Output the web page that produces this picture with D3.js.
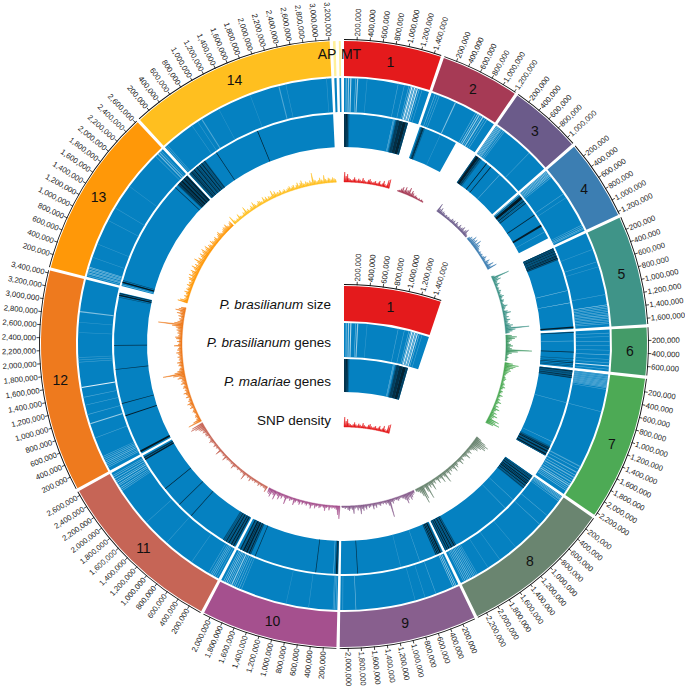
<!DOCTYPE html>
<html>
<head>
<meta charset="utf-8">
<script src="https://d3js.org/d3.v7.min.js"></script>
<style>
  html, body { margin: 0; padding: 0; background: #fff; }
  svg { display: block; font-family: "Liberation Sans", Arial, sans-serif; }
</style>
</head>
<body>
<script>
const chrNames = ['1','2','3','4','5','6','7','8','9','10','11','12','13','14','AP','MT'];
// chromosome sizes in Mb
const chrSizes = [1.51,1.22,1.125,1.247,1.69,0.737,2.25,2.35,2.13,2.113,2.664,3.44,2.63,3.21,0.04,0.03];
const chrColors = ['#e41a1c','#a63a55','#6b5b8a','#3c7eb2','#3f9488','#449b68','#4daa55','#6a8570',
  '#885f8e','#a5508e','#c66556','#ee7a1e','#ff9808','#ffbf1f','#fff09a','#fff09a'];
// how far the P. malariae track and the SNP track reach along each chromosome, Mb
const pmExtents = [1.31,0.80,1.125,1.07,1.69,0.737,1.82,2.35,2.13,2.113,2.664,3.35,2.63,3.21,0,0];

// [chr, start, end, level] level 0 = white, 1 = track blue
const pbBands = [
  [1,.03,.05,.6],[1,.07,.09,.4],[1,.11,.13,.3],[1,.2,.21,.5],[1,.23,.25,.4],[1,.4,.41,.8],[1,.95,.96,.7],[1,1.06,1.07,.7],
  [1,1.14,1.15,.6],[1,1.17,1.18,.3],[1,1.19,1.21,.1],[1,1.22,1.23,.3],[1,1.24,1.26,.1],[1,1.27,1.28,.3],[1,1.29,1.31,.2],[1,1.33,1.34,.5],[1,1.38,1.39,.7],
  [2,.06,.07,.6],[2,.1,.11,.7],[2,.14,.15,.7],[2,.44,.46,.5],[2,.84,.85,.6],[2,.88,.89,.3],[2,.91,.93,.4],[2,.95,.96,.5],[2,.98,1,.4],[2,1.03,1.04,.6],[2,1.07,1.08,.6],
  [3,.01,.02,.3],[3,.03,.04,.5],[3,.05,.06,.3],[3,.07,.08,.5],[3,.09,.1,.4],[3,.11,.12,.6],[3,.14,.15,.6],[3,.17,.18,.7],[3,.74,.75,.7],
  [4,.01,.02,.4],[4,.03,.04,.3],[4,.05,.06,.5],[4,.07,.08,.3],[4,.09,.1,.5],[4,.11,.12,.4],[4,.14,.15,.6],[4,.5,.51,.7],[4,.58,.59,.7],[4,1.13,1.14,.6],[4,1.16,1.17,.6],[4,1.19,1.2,.5],[4,1.21,1.22,.6],
  [5,.3,.31,.8],[5,.53,.54,.7],[5,.62,.63,.8],[5,1.12,1.13,.7],[5,1.3,1.31,.3],[5,1.33,1.34,.6],[5,1.36,1.37,.5],[5,1.39,1.4,.6],[5,1.42,1.43,.5],[5,1.45,1.46,.6],[5,1.48,1.49,.5],[5,1.51,1.52,.6],[5,1.54,1.55,.5],[5,1.57,1.58,.6],[5,1.6,1.61,.5],[5,1.63,1.64,.6],
  [6,.06,.07,.7],[6,.12,.13,.7],[6,.2,.21,.6],[6,.28,.29,.7],[6,.36,.37,.7],[6,.44,.45,.6],[6,.52,.53,.7],[6,.58,.59,.7],[6,.63,.65,.2],[6,.69,.7,.6],
  [7,.01,.02,.6],[7,.03,.04,.5],[7,.05,.06,.6],[7,.07,.08,.5],[7,.09,.1,.6],[7,.11,.12,.5],[7,.13,.14,.6],[7,.15,.16,.5],[7,.17,.18,.6],[7,.19,.2,.5],[7,.21,.22,.6],[7,.23,.24,.6],[7,.26,.27,.7],[7,.66,.67,.7],
  [7,1.68,1.7,.7],[7,1.74,1.75,.6],[7,1.8,1.82,.6],[7,1.86,1.87,.5],[7,1.9,1.92,.6],[7,1.95,1.96,.5],[7,1.99,2.01,.6],[7,2.04,2.05,.4],[7,2.07,2.09,.5],[7,2.11,2.12,.5],[7,2.14,2.15,.6],[7,2.17,2.18,.5],
  [8,.01,.02,.5],[8,.03,.04,.6],[8,.05,.06,.5],[8,.07,.08,.6],[8,.1,.11,.6],[8,.42,.43,.7],[8,.62,.63,.7],[8,1.2,1.21,.8],[8,1.55,1.56,.8],[8,1.8,1.81,.8],
  [8,2.02,2.03,.7],[8,2.05,2.06,.6],[8,2.08,2.09,.5],[8,2.11,2.12,.5],[8,2.14,2.15,.5],[8,2.17,2.18,.4],[8,2.2,2.21,.4],[8,2.23,2.24,.5],[8,2.26,2.27,.5],[8,2.29,2.3,.6],
  [9,.04,.05,.3],[9,.07,.08,.2],[9,.1,.11,.4],[9,.42,.43,.7],[9,.62,.63,.8],[9,.8,.81,.8],[9,1.85,1.86,.5],[9,2.08,2.09,.7],
  [10,.02,.03,.6],[10,.05,.06,.6],[10,.07,.08,.7],[10,.5,.51,.8],[10,.9,.91,.85],[10,1.72,1.73,.7],[10,1.76,1.77,.6],[10,1.8,1.81,.6],[10,1.84,1.85,.5],[10,1.87,1.88,.5],[10,1.9,1.92,.4],[10,1.94,1.95,.5],[10,1.97,1.98,.4],[10,2,2.01,.3],[10,2.03,2.04,.4],[10,2.06,2.07,.5],
  [11,.03,.04,.7],[11,.07,.08,.6],[11,.1,.11,.5],[11,.13,.14,.5],[11,.16,.17,.6],[11,.2,.21,.7],[11,.55,.56,.8],[11,1.1,1.11,.8],[11,1.6,1.61,.8],
  [11,2.3,2.31,.6],[11,2.33,2.34,.5],[11,2.36,2.37,.4],[11,2.4,2.41,.5],[11,2.43,2.44,.4],[11,2.47,2.48,.3],[11,2.5,2.51,.5],[11,2.54,2.55,.4],[11,2.58,2.59,.5],[11,2.61,2.62,.6],
  [12,.06,.07,.6],[12,.09,.1,.5],[12,.12,.13,.5],[12,.15,.16,.4],[12,.18,.19,.5],[12,.21,.22,.5],[12,.24,.25,.6],[12,.27,.28,.6],[12,.62,.63,.7],[12,.88,.9,.4],[12,1.05,1.06,.7],[12,1.22,1.23,.7],[12,1.36,1.37,.7],[12,1.53,1.55,.1],
  [12,1.98,1.99,.7],[12,2.02,2.03,.7],[12,2.06,2.07,.8],[12,2.5,2.51,.8],[12,2.68,2.69,.8],[12,2.86,2.88,.5],
  [13,.02,.03,.6],[13,.05,.06,.4],[13,.07,.08,.5],[13,.1,.11,.4],[13,.12,.13,.5],[13,.15,.16,.4],[13,.17,.18,.5],[13,.35,.36,.8],[13,.6,.61,.8],[13,1.05,1.06,.8],[13,1.3,1.31,.8],[13,1.75,1.76,.85],[13,2.45,2.46,.7],[13,2.5,2.52,.5],[13,2.54,2.56,.6],[13,2.58,2.59,.7],
  [14,.02,.03,.6],[14,.05,.06,.7],[14,.6,.61,.8],[14,.72,.73,.8],[14,.8,.82,.7],[14,1.15,1.16,.85],[14,1.75,1.76,.85],[14,2.27,2.29,.7],[14,2.4,2.41,.8],[14,3.12,3.13,.8]
];

// [chr, start, end, level] level 1 = track blue, 2 = black
const pmBands = [
  [1,0,.03,1.7],[1,.03,.06,1.9],[1,.06,.09,1.6],[1,.09,.11,1.3],[1,1,1.01,.5],[1,1.02,1.03,.6],[1,1.05,1.07,1.3],[1,1.07,1.13,1.6],[1,1.13,1.2,1.75],[1,1.2,1.27,1.85],[1,1.27,1.31,1.6],
  [2,.03,.05,1.5],[2,.05,.09,1.7],[2,.09,.11,1.3],[2,.44,.45,.8],
  [3,0,.02,1.5],[3,.02,.08,1.9],[3,.08,.12,1.6],[3,.12,.15,1.3],[3,.27,.285,1.9],[3,.38,.395,1.9],[3,.62,.63,.6],
  [4,.01,.02,.4],[4,.03,.05,1.4],[4,.06,.12,1.95],[4,.13,.15,1.4],[4,.16,.18,1.8],[4,.19,.21,1.3],[4,.22,.24,1.7],[4,.52,.535,1.8],[4,.76,.8,1.9],[4,.92,.93,.7],
  [5,0,.26,1.25],[5,0,.02,1.7],[5,.03,.05,1.6],[5,.06,.075,1.85],[5,.08,.1,1.5],[5,.11,.125,1.85],[5,.13,.15,1.5],[5,.16,.175,1.9],[5,.18,.2,1.7],[5,.21,.23,1.9],[5,.24,.255,1.6],[5,.9,.91,.5],[5,1.15,1.16,.3],[5,1.64,1.67,1.9],
  [6,.01,.025,1.8],[6,.19,.2,.6],[6,.41,.425,1.8],[6,.55,.56,1.4],[6,.6,.61,1.7],[6,.63,.645,1.8],[6,.67,.68,1.5],[6,.7,.71,1.6],
  [7,0,.16,1.25],[7,.01,.03,1.8],[7,.04,.05,1.5],[7,.06,.07,1.7],[7,.08,.09,1.4],[7,.1,.115,1.9],[7,.12,.13,1.5],[7,.14,.155,1.8],[7,.66,.67,.7],[7,1.5,1.51,.6],[7,1.6,1.82,1.25],[7,1.6,1.61,1.3],[7,1.63,1.65,1.7],[7,1.66,1.68,1.9],[7,1.69,1.7,1.5],[7,1.71,1.74,1.9],[7,1.75,1.76,1.5],[7,1.77,1.8,1.9],[7,1.81,1.82,1.6],
  [8,0,.32,1.2],[8,.01,.02,1.5],[8,.03,.045,1.8],[8,.05,.07,1.5],[8,.08,.1,1.9],[8,.11,.12,1.5],[8,.13,.15,1.9],[8,.16,.18,1.7],[8,.19,.21,1.95],[8,.22,.23,1.5],[8,.24,.26,1.85],[8,.27,.28,1.4],[8,.29,.31,1.6],[8,.62,.63,.7],[8,.85,.86,.7],[8,2.1,2.35,1.2],[8,2.1,2.115,1.5],[8,2.13,2.15,1.9],[8,2.16,2.175,1.5],[8,2.19,2.21,1.9],[8,2.22,2.235,1.5],[8,2.25,2.27,1.9],[8,2.29,2.31,1.8],[8,2.33,2.345,1.6],
  [9,.02,.03,1.6],[9,.04,.07,1.9],[9,.08,.1,1.8],[9,.11,.13,1.95],[9,.14,.16,1.6],[9,.5,.51,.7],[9,.9,.91,.8],[9,1.78,1.795,1.7],
  [10,.01,.03,1.7],[10,.03,.05,1.9],[10,.06,.07,1.4],[10,.09,.1,.5],[10,.45,.465,1.7],[10,1.72,1.735,1.7],[10,1.82,2.07,1.25],[10,1.82,1.84,1.5],[10,1.85,1.87,1.9],[10,1.88,1.89,1.5],[10,1.9,1.93,1.9],[10,1.94,1.96,1.7],[10,1.97,2,1.9],[10,2.01,2.02,1.4],[10,2.04,2.06,1.8],
  [11,.02,.3,1.25],[11,.02,.03,1.4],[11,.04,.06,1.9],[11,.07,.08,1.5],[11,.09,.11,1.9],[11,.12,.13,1.4],[11,.15,.17,1.9],[11,.18,.19,1.5],[11,.21,.23,1.8],[11,.25,.26,1.5],[11,.28,.29,1.6],[11,1.09,1.105,1.7],[11,1.42,1.435,1.7],[11,1.85,1.865,1.85],[11,2.56,2.59,1.9],[11,2.6,2.63,1.7],
  [12,.03,.07,1.95],[12,.82,.84,1.9],[12,1.08,1.095,1.8],[12,1.78,1.795,1.7],[12,2.27,2.285,1.7],[12,3.25,3.26,1.5],[12,3.28,3.31,1.9],[12,3.32,3.34,1.8],
  [13,.02,.03,.5],[13,.06,.09,1.95],[13,.11,.12,1.6],[13,2.28,2.295,1.7],[13,2.35,2.63,1.4],[13,2.37,2.39,1.7],[13,2.4,2.42,1.95],[13,2.43,2.45,1.7],[13,2.46,2.49,1.95],[13,2.5,2.51,1.6],[13,2.52,2.55,1.9],[13,2.56,2.58,1.7],[13,2.59,2.62,1.9],
  [14,0,.42,1.3],[14,.02,.04,1.5],[14,.05,.07,1.8],[14,.08,.1,1.6],[14,.12,.14,1.9],[14,.15,.17,1.4],[14,.19,.21,1.8],[14,.22,.24,1.5],[14,.26,.28,1.9],[14,.29,.3,1.4],[14,.32,.34,1.8],[14,.36,.37,1.5],[14,.39,.41,1.7],[14,.69,.705,1.8],[14,1.63,1.645,1.85]
];

// SNP density per chromosome, one value per equal bin over that chromosome's reach
const snp1 = [10,6,8,4,3,2,3,5,3,2,4,3,2,5,3,2,2,4,5,3,2,3,4,2,3,5,2,3,6,3,2,8,9];
const snp2 = [1,2,4,6,3,7,4,5,8,3,6,4,2,3,2,1,2,1,2,1];
const snp3 = [9,4,6,3,4,3,2,3,2,3,2,2,4,3,4,2,5,3,2,5,3,4,6,3,5,7,3,2];
const snp4 = [3,5,4,8,5,7,4,9,5,6,4,3,2,3,2,3,2,3,5,3,2,6,4,3,8,4,10];
const snp5 = [3,18,6,8,4,3,5,3,2,3,2,4,3,2,3,5,3,2,4,3,2,3,6,4,3,2,5,8,4,3,5,3,6,4,3,5,8,6,24,10,7,4];
const snp6 = [6,11,9,6,4,3,5,7,4,6,26,12,6,3,2,3,2,2];
const snp7 = [8,14,11,9,6,7,5,4,3,2,3,4,3,2,3,4,3,5,3,2,4,3,2,5,3,2,4,3,6,3,2,5,3,7,4,3,6,4,8,5,4,12,9,14,8];
const snp8 = [6,12,16,14,15,11,8,9,6,4,3,6,4,3,8,4,3,2,5,3,7,3,2,4,6,3,8,4,3,5,3,7,4,3,12,5,3,9,4,3,7,3,2,5,3,10,4,6,3,16,8,3,14,18,10,6,4,3];
const snp9 = [3,4,6,8,5,7,10,6,4,3,2,3,4,3,2,3,5,3,18,6,3,4,2,3,2,4,3,2,5,3,6,2,3,4,2,5,3,6,4,9,3,5,2,3,8,4,3,5,4,2,3,2,2];
const snp10 = [13,9,4,3,2,3,2,5,2,3,6,3,2,3,4,2,3,5,2,3,6,3,2,4,3,2,4,2,5,3,2,4,7,2,3,4,2,3,9,3,2,5,3,7,4,3,9,5,4,8,6,5];
const snp11 = [6,3,3,2,3,2,4,2,2,3,2,3,2,5,2,3,2,2,8,3,2,3,2,2,3,2,2,3,6,2,3,2,2,2,3,2,6,2,3,2,2,2,7,2,2,3,2,4,2,2,3,5,3,2,3,2,4,4,3,5,4,6,7,10,14,12];
const snp12 = [14,8,4,3,4,3,2,3,4,3,2,5,3,4,6,3,4,3,2,5,3,4,6,3,4,3,5,4,3,6,4,5,4,8,6,12,22,10,7,5,4,3,5,4,6,3,4,3,5,3,4,6,3,5,4,3,8,4,3,5,3,6,7,4,3,5,4,6,5,7,11,25,9,6,4,5,3,6,4,8,5,10,7,5];
const snp13 = [10,8,4,3,5,3,4,6,3,5,4,3,6,4,5,3,6,7,4,8,5,6,8,4,6,9,5,7,4,6,10,5,7,4,6,8,5,7,9,5,6,8,4,6,5,3,7,5,4,5,6,3,4,6,7,4,3,4,5,6,5,7,4,3,5,6];
const snp14 = [9,3,2,3,2,6,3,2,2,4,3,8,3,4,2,3,5,3,7,4,2,3,5,4,3,2,6,3,5,2,4,3,3,8,4,6,3,4,3,5,2,3,4,2,3,4,5,3,4,5,2,4,6,3,5,7,4,3,5,4,3,5,3,12,5,4,3,4,6,4,3,8,4,3,5,4,3,5,4,3];
const snpByChr = [snp1,snp2,snp3,snp4,snp5,snp6,snp7,snp8,snp9,snp10,snp11,snp12,snp13,snp14];

const width = 685, height = 687;
const cx = 344, cy = 344;
const legendShift = 245;
const gapMb = 0.05;

let svg = d3.select('body').append('svg')
  .attr('width', width)
  .attr('height', height);

// cumulative start of every chromosome on one long axis
let starts = [];
let total = 0;
chrSizes.forEach(s => { starts.push(total); total += s + gapMb; });
let angle = d3.scaleLinear().domain([0, total]).range([0, 2 * Math.PI]);
let pos = (i, mb) => angle(starts[i] + mb);

let heat = d3.scaleLinear().domain([0, 1, 2]).range(['#ffffff', '#0581c1', '#04121a']);
let snpR = d3.scaleLinear().domain([0, 30]).range([162, 192]);
let fmt = d3.format(',');
let arc = d3.arc();

function cell(g, i, a, b, r0, r1, fill) {
  g.append('path')
    .attr('d', arc({ innerRadius: r0, outerRadius: r1, startAngle: pos(i, a), endAngle: pos(i, b) }))
    .attr('fill', fill);
}

function drawChr(g, i) {
  let size = chrSizes[i];
  // ideogram
  cell(g, i, 0, size, 268, 303, chrColors[i]);
  // P. brasilianum genes
  cell(g, i, 0, size, 232, 266, heat(1));
  pbBands.filter(d => d[0] === i + 1).forEach(d => cell(g, i, d[1], d[2], 232, 266, heat(d[3])));
  // P. malariae genes
  if (pmExtents[i] > 0) {
    cell(g, i, 0, pmExtents[i], 197, 230, heat(1));
    pmBands.filter(d => d[0] === i + 1).forEach(d => cell(g, i, d[1], d[2], 197, 230, heat(d[3])));
  }
  if (i >= 14) return;
  // outer line and ticks
  g.append('path')
    .attr('d', arc({ innerRadius: 304, outerRadius: 304.9, startAngle: pos(i, 0), endAngle: pos(i, size) }))
    .attr('fill', '#111');
  d3.range(0.2, size, 0.2).forEach(mb => {
    let a = pos(i, mb);
    let deg = a * 180 / Math.PI;
    let p0 = d3.pointRadial(a, 304), p1 = d3.pointRadial(a, 307.5);
    g.append('line')
      .attr('x1', p0[0]).attr('y1', p0[1]).attr('x2', p1[0]).attr('y2', p1[1])
      .attr('stroke', '#111').attr('stroke-width', 0.8);
    let left = deg > 180;
    g.append('text')
      .attr('transform', `rotate(${deg - 90}) translate(308,0)` + (left ? ' rotate(180)' : ''))
      .attr('text-anchor', left ? 'end' : 'start')
      .attr('dy', '0.35em')
      .attr('font-size', 7.7)
      .attr('fill', '#222')
      .text(fmt(Math.round(mb * 10) * 100000));
  });
  // chromosome number
  let mid = d3.pointRadial(pos(i, size / 2), 286);
  g.append('text')
    .attr('x', mid[0]).attr('y', mid[1])
    .attr('text-anchor', 'middle')
    .attr('dy', '0.35em')
    .attr('font-size', 14)
    .attr('fill', '#111')
    .text(chrNames[i]);
  // SNP density: every bin is a thin spike standing on the baseline
  let vals = snpByChr[i];
  let step = pmExtents[i] / vals.length;
  let spikes = [];
  vals.forEach((v, k) => {
    spikes.push([k * step, 0.6]);
    spikes.push([(k + 0.5) * step, v]);
  });
  spikes.push([vals.length * step, 0.6]);
  let area = d3.areaRadial()
    .angle(d => pos(i, d[0]))
    .innerRadius(snpR(0))
    .outerRadius(d => snpR(d[1]));
  g.append('path')
    .attr('d', area(spikes))
    .attr('fill', chrColors[i])
    .attr('stroke', chrColors[i])
    .attr('stroke-width', 0.45)
    .attr('stroke-linejoin', 'round');
}

let main = svg.append('g').attr('transform', `translate(${cx},${cy})`);
chrNames.forEach((n, i) => drawChr(main, i));

// AP and MT sit on the very top of the ideogram ring
main.append('text').attr('x', -17).attr('y', -290).attr('dy', '0.35em')
  .attr('text-anchor', 'middle').attr('font-size', 14).attr('fill', '#111').text('AP');
main.append('text').attr('x', 7).attr('y', -290).attr('dy', '0.35em')
  .attr('text-anchor', 'middle').attr('font-size', 14).attr('fill', '#111').text('MT');

// legend is chromosome 1 again, moved down into the hole
let legend = svg.append('g').attr('transform', `translate(${cx},${cy + legendShift})`);
drawChr(legend, 0);

const legendLabels = [
  { it: 'P. brasilianum', rest: ' size', y: 304 },
  { it: 'P. brasilianum', rest: ' genes', y: 342 },
  { it: 'P. malariae', rest: ' genes', y: 381 },
  { it: '', rest: 'SNP density', y: 420 }
];
legendLabels.forEach(d => {
  let t = svg.append('text')
    .attr('x', 331).attr('y', d.y)
    .attr('dy', '0.35em')
    .attr('text-anchor', 'end')
    .attr('font-size', 13.5)
    .attr('fill', '#111');
  if (d.it) t.append('tspan').attr('font-style', 'italic').text(d.it);
  t.append('tspan').text(d.rest);
});
</script>
</body>
</html>
